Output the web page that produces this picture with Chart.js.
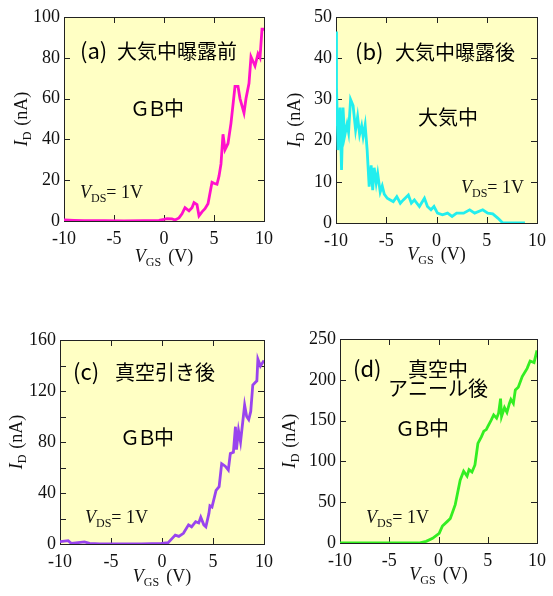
<!DOCTYPE html>
<html>
<head>
<meta charset="utf-8">
<script src="https://cdn.jsdelivr.net/npm/chart.js@4.4.0/dist/chart.umd.min.js"></script>
<style>
  body { margin: 0; background: #fff; width: 553px; height: 596px; position: relative; overflow: hidden; }
  canvas { position: absolute; }
</style>
</head>
<body>
<canvas id="ca" width="280" height="290" style="left:0px;top:0px;width:280px;height:290px"></canvas>
<canvas id="cb" width="280" height="290" style="left:273px;top:0px;width:280px;height:290px"></canvas>
<canvas id="cc" width="280" height="276" style="left:0px;top:320px;width:280px;height:276px"></canvas>
<canvas id="cd" width="280" height="276" style="left:273px;top:320px;width:280px;height:276px"></canvas>
<script>
// データ (V_GS [V], I_D [nA]) -----------------------
// (a) 大気中曝露前
const vgsA = [-10, -9, -8, -6, -4, -2, -0.5, 0, 0.3, 0.8, 1.1, 1.5, 1.8, 2.1, 2.5, 2.8, 3.0, 3.3, 3.5, 3.8, 4.1, 4.4, 4.8, 5.0, 5.3, 5.5, 5.7, 5.9, 6.1, 6.4, 6.7, 7.1, 7.4, 7.6, 8.0, 8.2, 8.5, 8.7, 9.1, 9.4, 9.6, 9.8, 10];
const idA  = [0.5, 0.3, 0.2, 0.2, 0.1, 0.2, 0.3, 0.8, 1.2, 1.0, 0.5, 1.5, 3.5, 6.5, 5, 6.5, 9, 8, 2.5, 4.5, 6, 8.5, 19, 18.5, 18, 22, 28, 42.5, 35, 38, 48, 66, 66, 60, 53, 60, 67.5, 80.5, 76, 82, 80, 94, 94];
// (b) 大気中曝露後
const vgsB = [-10, -9.95, -9.8, -9.6, -9.45, -9.3, -9.15, -8.9, -8.75, -8.55, -8.3, -8.05, -7.85, -7.65, -7.45, -7.3, -7.1, -6.9, -6.7, -6.5, -6.35, -6.2, -6.0, -5.85, -5.6, -5.4, -5.2, -4.9, -4.6, -4.3, -3.95, -3.6, -3.3, -2.8, -2.5, -2.2, -1.7, -1.2, -0.9, -0.55, -0.25, 0.1, 0.6, 1.1, 1.55, 2.0, 2.7, 3.3, 3.8, 4.6, 5.1, 5.6, 6.1, 6.55, 7.2, 8.0, 8.8];
const idB  = [46.5, 33, 17.7, 28, 12.9, 28, 21, 24, 22, 30, 28.5, 22.6, 25.8, 21.5, 23.6, 21, 23.8, 17.7, 8.8, 14, 8, 13.4, 9.7, 12, 7.5, 9, 7, 6, 5.6, 5.2, 6.4, 4.8, 5.6, 6.8, 4.8, 5.6, 4, 6, 4, 3.2, 4, 2.4, 2, 2.4, 1.6, 2.4, 2.4, 3.2, 2.4, 3.2, 2.4, 2.2, 1.2, 0.1, 0, 0, 0];
// (c) 真空引き後
const vgsC = [-10, -9.2, -8.9, -7.6, -7.1, -6.1, -4, -2, -0.06, 0.6, 1.0, 1.3, 1.65, 2.1, 2.6, 2.9, 3.3, 3.6, 3.8, 4.1, 4.3, 4.6, 4.7, 4.9, 5.3, 5.6, 5.85, 6.2, 6.5, 6.7, 7.0, 7.2, 7.3, 7.5, 7.7, 8.1, 8.3, 8.5, 8.7, 8.9, 9.3, 9.4, 9.65, 10];
const idC  = [1.8, 2.6, 0.5, 1.6, 0.5, 0, 0, 0, 0.5, 1, 4.4, 7, 6, 8.4, 15, 13.5, 17.5, 16.5, 21, 15, 13.5, 24, 30, 29, 42, 45, 63, 61, 58, 71, 72, 92, 74, 89, 80, 109, 100, 97.6, 104, 124.7, 128, 145, 139.6, 144];
// (d) 真空中アニール後
const vgsD = [-10, -6, -2, -1.25, -0.6, 0.07, 0.4, 0.9, 1.2, 1.7, 2.2, 2.55, 2.9, 3.1, 3.4, 3.7, 4.0, 4.35, 4.6, 4.85, 5.0, 5.35, 5.6, 5.9, 6.1, 6.3, 6.4, 6.7, 6.95, 7.2, 7.35, 7.6, 7.8, 8.1, 8.5, 9.0, 9.3, 9.7, 10];
const idD  = [0, 0, 0, 2, 5.7, 11.8, 20.8, 26.5, 30, 47, 77, 88, 82, 90, 87, 95.6, 122, 130, 137, 139, 142.6, 150.7, 157, 153, 159, 177, 155, 166, 160, 171, 176, 171, 187.5, 191, 204, 214, 223, 221, 236];

const serif = '"Liberation Serif", "Times New Roman", serif';
const gothic = '"Noto Sans CJK JP", "Noto Sans", sans-serif';

// 文字列を続けて描く（下付き用）
function runs(ctx, x, y, list, center) {
  let w = 0;
  list.forEach(r => { ctx.font = r.f; w += ctx.measureText(r.t).width + (r.gap || 0); });
  let cx = center ? x - w / 2 : x;
  list.forEach(r => {
    ctx.font = r.f;
    ctx.fillText(r.t, cx, y + (r.dy || 0));
    cx += ctx.measureText(r.t).width + (r.gap || 0);
  });
}

const deco = {
  id: 'deco',
  beforeDraw(chart) {
    const { ctx, chartArea: a } = chart;
    ctx.save();
    ctx.fillStyle = '#ffffc4';
    ctx.fillRect(a.left, a.top, a.right - a.left, a.bottom - a.top);
    ctx.restore();
  },
  beforeDatasetsDraw(chart) {
    const { ctx, chartArea: a, scales } = chart;
    ctx.save();
    ctx.strokeStyle = '#222';
    ctx.lineWidth = 1;
    ctx.beginPath();
    // 内向きの目盛り
    scales.x.ticks.forEach(t => {
      if (t.value <= scales.x.min || t.value >= scales.x.max) return;
      const px = Math.round(scales.x.getPixelForValue(t.value)) + 0.5;
      ctx.moveTo(px, a.bottom); ctx.lineTo(px, a.bottom - 6);
      ctx.moveTo(px, a.top); ctx.lineTo(px, a.top + 6);
    });
    scales.y.ticks.forEach(t => {
      if (t.value <= scales.y.min || t.value >= scales.y.max) return;
      const py = Math.round(scales.y.getPixelForValue(t.value)) + 0.5;
      ctx.moveTo(a.left, py); ctx.lineTo(a.left + 6, py);
      ctx.moveTo(a.right, py); ctx.lineTo(a.right - 6, py);
    });
    ctx.stroke();
    ctx.strokeRect(Math.round(a.left) + 0.5, Math.round(a.top) + 0.5, Math.round(a.right - a.left), Math.round(a.bottom - a.top));
    ctx.restore();
  },
  afterDraw(chart, args, o) {
    const { ctx, chartArea: a } = chart;
    ctx.save();
    ctx.fillStyle = '#111';
    ctx.textBaseline = 'alphabetic';
    // 軸タイトル
    runs(ctx, (a.left + a.right) / 2, a.bottom + o.xTitle, [
      { t: 'V', f: 'italic 18px ' + serif },
      { t: 'GS', f: '12px ' + serif, dy: 4, gap: 7 },
      { t: '(V)', f: '18px ' + serif }
    ], true);
    ctx.save();
    ctx.translate(a.left - o.yTitle, (a.top + a.bottom) / 2);
    ctx.rotate(-Math.PI / 2);
    runs(ctx, 0, 0, [
      { t: 'I', f: 'italic 18px ' + serif },
      { t: 'D', f: '12px ' + serif, dy: 4, gap: 6 },
      { t: '(nA)', f: '18px ' + serif }
    ], true);
    ctx.restore();
    // V_DS
    runs(ctx, a.left + o.vds[0], a.bottom - o.vds[1], [
      { t: 'V', f: 'italic 18px ' + serif },
      { t: 'DS', f: '12px ' + serif, dy: 4 },
      { t: '= 1V', f: '18px ' + serif }
    ], false);
    // 日本語ラベル
    ctx.textBaseline = 'middle';
    ctx.fillStyle = '#000';
    o.texts.forEach(s => {
      ctx.font = (s.s || 20) + 'px ' + gothic;
      ctx.letterSpacing = (s.ls || 0) + 'px';
      ctx.fillText(s.t, a.left + s.x, a.top + s.y);
    });
    ctx.letterSpacing = '0px';
    ctx.restore();
  }
};

function makePanel(id, vgs, id_, color, box, yMax, yStep, yLabelStep, o) {
  const canvas = document.getElementById(id);
  const W = canvas.width, H = canvas.height;
  return new Chart(canvas, {
    type: 'line',
    data: {
      datasets: [{
        data: vgs.map((v, i) => ({ x: v, y: id_[i] })),
        borderColor: color,
        borderWidth: 2.8,
        pointRadius: 0,
        tension: 0,
        fill: false
      }]
    },
    options: {
      responsive: false,
      devicePixelRatio: 1,
      animation: false,
      events: [],
      layout: { padding: { top: box.top, right: W - box.right, left: 0, bottom: 0 } },
      plugins: { legend: { display: false }, tooltip: { enabled: false }, deco: o },
      scales: {
        x: {
          type: 'linear', min: -10, max: 10,
          grid: { display: false, drawTicks: false, tickLength: 0 }, border: { display: false },
          ticks: { stepSize: 5, color: '#111', padding: 7, maxRotation: 0,
                   font: { family: serif, size: 18 } },
          afterFit: s => { s.height = H - box.bottom; }
        },
        y: {
          type: 'linear', min: 0, max: yMax,
          grid: { display: false, drawTicks: false, tickLength: 0 }, border: { display: false },
          ticks: { stepSize: yStep, color: '#111', padding: 4,
                   font: { family: serif, size: 18 },
                   callback: v => (v % yLabelStep === 0 ? v : '') },
          afterFit: s => { s.width = box.left; }
        }
      }
    },
    plugins: [deco]
  });
}

makePanel('ca', vgsA, idA, '#ff10cc', { left: 64, right: 269, top: 17, bottom: 221 }, 100, 20, 20, {
  xTitle: 41, yTitle: 37, vds: [16, 23],
  texts: [ { t: '(a)', x: 16, y: 34, s: 22 }, { t: '大気中曝露前', x: 53, y: 34 }, { t: 'ＧＢ中', x: 66, y: 91, ls: -3 } ]
});
makePanel('cb', vgsB, idB, '#22eeee', { left: 63, right: 269, top: 17, bottom: 223 }, 50, 10, 10, {
  xTitle: 37, yTitle: 36, vds: [125, 30],
  texts: [ { t: '(b)', x: 19, y: 35, s: 22 }, { t: '大気中曝露後', x: 59, y: 35 }, { t: '大気中', x: 82, y: 100 } ]
});
makePanel('cc', vgsC, idC, '#9944ee', { left: 60, right: 264, top: 20, bottom: 224 }, 160, 20, 40, {
  xTitle: 38, yTitle: 38, vds: [25, 21],
  texts: [ { t: '(c)', x: 13, y: 32, s: 22 }, { t: '真空引き後', x: 55, y: 32 }, { t: 'ＧＢ中', x: 60, y: 97, ls: -3 } ]
});
makePanel('cd', vgsD, idD, '#33ee22', { left: 67, right: 269, top: 19, bottom: 223 }, 250, 50, 50, {
  xTitle: 37, yTitle: 45, vds: [26, 20],
  texts: [ { t: '(d)', x: 13, y: 30, s: 22 }, { t: '真空中', x: 68, y: 30 }, { t: 'アニール後', x: 48, y: 49 }, { t: 'ＧＢ中', x: 55, y: 89, ls: -3 } ]
});
</script>
</body>
</html>
